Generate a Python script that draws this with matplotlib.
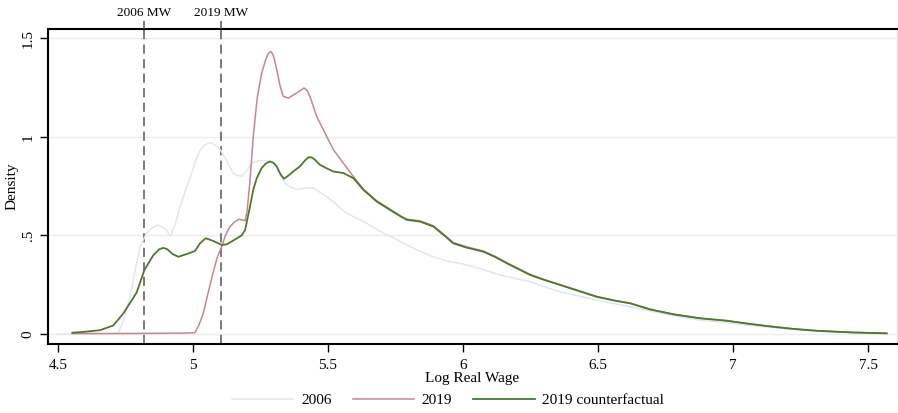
import matplotlib
matplotlib.use("Agg")
import matplotlib.pyplot as plt

plt.rcParams['font.family'] = ['Liberation Serif', 'DejaVu Serif']

# density curves
x_2006 = [4.50, 4.60, 4.70, 4.723, 4.745, 4.767, 4.785, 4.804, 4.828, 4.850, 4.871, 4.896, 4.917,
          4.935, 4.952, 4.97, 4.989, 5.010, 5.026, 5.045, 5.063, 5.080, 5.10, 5.112, 5.131, 5.149,
          5.162, 5.18, 5.20, 5.223, 5.245, 5.273, 5.295, 5.31, 5.328, 5.341, 5.360, 5.384, 5.40,
          5.433, 5.45, 5.47, 5.495, 5.52, 5.557, 5.581, 5.610, 5.643, 5.693, 5.740, 5.791, 5.84,
          5.89, 5.94, 5.989, 6.038, 6.09, 6.137, 6.19, 6.248, 6.30, 6.359, 6.43, 6.495, 6.56,
          6.619, 6.70, 6.78, 6.878, 6.976, 7.05, 7.125, 7.22, 7.31, 7.433, 7.569]
y_2006 = [0.0, 0.0, 0.001, 0.005, 0.08, 0.19, 0.32, 0.443, 0.511, 0.54, 0.553, 0.536, 0.497,
          0.56, 0.646, 0.72, 0.79, 0.88, 0.93, 0.96, 0.971, 0.96, 0.935, 0.91, 0.862, 0.816,
          0.805, 0.80, 0.83, 0.87, 0.878, 0.88, 0.87, 0.85, 0.79, 0.765, 0.745, 0.734, 0.735,
          0.742, 0.738, 0.718, 0.697, 0.67, 0.625, 0.604, 0.585, 0.562, 0.52, 0.49, 0.452, 0.42,
          0.392, 0.37, 0.359, 0.342, 0.32, 0.30, 0.283, 0.266, 0.24, 0.215, 0.193, 0.173, 0.155,
          0.139, 0.115, 0.093, 0.071, 0.058, 0.046, 0.036, 0.024, 0.015, 0.008, 0.003]

x_2019 = [4.553, 4.70, 4.85, 4.95, 5.007, 5.020, 5.038, 5.056, 5.075, 5.090, 5.106, 5.120, 5.137,
          5.155, 5.171, 5.186, 5.193, 5.200, 5.210, 5.223, 5.238, 5.254, 5.270, 5.280, 5.288, 5.295,
          5.302, 5.31, 5.322, 5.334, 5.353, 5.384, 5.411, 5.422, 5.433, 5.458, 5.495, 5.52, 5.557,
          5.594, 5.631, 5.680, 5.730, 5.767, 5.791, 5.841, 5.89, 5.93, 5.964, 6.014, 6.075, 6.12,
          6.162, 6.248, 6.30, 6.359, 6.43, 6.495, 6.56, 6.619, 6.693, 6.78, 6.878, 6.976, 7.05,
          7.125, 7.22, 7.31, 7.433, 7.569]
y_2019 = [0.003, 0.003, 0.004, 0.005, 0.007, 0.04, 0.105, 0.21, 0.315, 0.39, 0.443, 0.50, 0.545,
          0.57, 0.582, 0.578, 0.575, 0.62, 0.76, 1.0, 1.2, 1.32, 1.395, 1.423, 1.432, 1.42,
          1.39, 1.34, 1.26, 1.205, 1.196, 1.222, 1.247, 1.235, 1.205, 1.103, 1.002, 0.934, 0.866,
          0.798, 0.735, 0.676, 0.633, 0.60, 0.583, 0.574, 0.549, 0.504, 0.464, 0.442, 0.421, 0.393,
          0.362, 0.303, 0.277, 0.251, 0.22, 0.191, 0.171, 0.157, 0.126, 0.101, 0.081, 0.068, 0.054,
          0.041, 0.027, 0.017, 0.009, 0.004]

x_cf = [4.553, 4.60, 4.656, 4.705, 4.742, 4.791, 4.820, 4.853, 4.875, 4.890, 4.905, 4.925, 4.946,
        4.977, 5.007, 5.026, 5.047, 5.075, 5.106, 5.125, 5.150, 5.180, 5.193, 5.211, 5.223, 5.236,
        5.254, 5.270, 5.285, 5.298, 5.310, 5.324, 5.337, 5.355, 5.371, 5.396, 5.415, 5.427, 5.440,
        5.452, 5.470, 5.495, 5.52, 5.557, 5.594, 5.631, 5.680, 5.730, 5.767, 5.791, 5.841, 5.89,
        5.93, 5.964, 6.014, 6.075, 6.12, 6.162, 6.248, 6.30, 6.359, 6.43, 6.495, 6.56, 6.619,
        6.693, 6.78, 6.878, 6.976, 7.05, 7.125, 7.22, 7.31, 7.433, 7.569]
y_cf = [0.007, 0.012, 0.02, 0.044, 0.105, 0.21, 0.325, 0.40, 0.43, 0.437, 0.43, 0.405, 0.392,
        0.406, 0.421, 0.46, 0.486, 0.472, 0.452, 0.455, 0.475, 0.50, 0.528, 0.646, 0.731, 0.79,
        0.841, 0.865, 0.875, 0.868, 0.85, 0.81, 0.787, 0.805, 0.824, 0.85, 0.88, 0.896, 0.895,
        0.883, 0.858, 0.84, 0.824, 0.816, 0.79, 0.731, 0.672, 0.629, 0.598, 0.579, 0.570, 0.545,
        0.50, 0.46, 0.438, 0.418, 0.39, 0.359, 0.30, 0.275, 0.249, 0.218, 0.189, 0.17, 0.156,
        0.125, 0.10, 0.08, 0.068, 0.054, 0.041, 0.027, 0.017, 0.009, 0.004]

mw_x = [4.819, 5.104]
mw_labels = ['2006 MW', '2019 MW']
xticks = [4.5, 5, 5.5, 6, 6.5, 7, 7.5]
xticklabels = ['4.5', '5', '5.5', '6', '6.5', '7', '7.5']
yticks = [0, 0.5, 1, 1.5]
yticklabels = ['0', '.5', '1', '1.5']

fig = plt.figure(figsize=(8.98, 4.13), dpi=100)
ax = fig.add_axes([48/898, 1-344/413, 849/898, 315/413])

for yt in yticks:
    ax.axhline(yt, color='#ececec', lw=1, zorder=0)

l1, = ax.plot(x_2006, y_2006, color='#e2e6ee', lw=1.1, label='2006')
l2, = ax.plot(x_2019, y_2019, color='#c8868c', lw=1.1, label='2019')
l3, = ax.plot(x_cf, y_cf, color='#4b7a2e', lw=1.3, label='2019 counterfactual')

for xv in mw_x:
    ax.axvline(xv, color='#555555', lw=1.1, ls=(0, (6, 3.5)), zorder=1)

ax.set_xlim(4.463, 7.607)
ax.set_ylim(-0.05, 1.546)
ax.set_xticks(xticks)
ax.set_xticklabels(xticklabels, fontsize=11)
ax.set_yticks(yticks)
ax.set_yticklabels(yticklabels, fontsize=11, rotation=90, va='center')
ax.tick_params(direction='out', length=6, width=1, color='black')
ax.tick_params(axis='x', pad=5)
ax.set_xlabel('Log Real Wage', fontsize=11, labelpad=0)
ax.set_ylabel('Density', fontsize=11, labelpad=2)

for s in ['left', 'bottom', 'top']:
    ax.spines[s].set_color('black')
    ax.spines[s].set_linewidth(1.5)
ax.spines['right'].set_color('#e0e0e0')
ax.spines['right'].set_linewidth(1)

top = ax.twiny()
top.set_xlim(ax.get_xlim())
top.set_xticks(mw_x)
top.set_xticklabels(mw_labels, fontsize=9.5)
top.tick_params(direction='out', length=6, width=1.1, color='#555555', pad=1)
for s in top.spines.values():
    s.set_visible(False)

fig.legend(handles=[l1, l2, l3], loc='center', bbox_to_anchor=(0.499, 0.03), ncol=3,
           frameon=False, fontsize=11, handlelength=4, columnspacing=1.4, handletextpad=0.5)

fig.savefig('out.png', dpi=100)
